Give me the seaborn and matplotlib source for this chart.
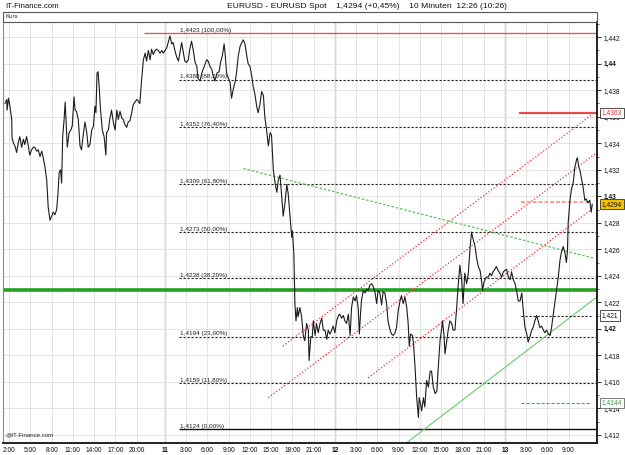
import matplotlib
matplotlib.use("Agg")
import matplotlib.pyplot as plt
from matplotlib.patches import Rectangle
import seaborn as sns
import pandas as pd

sns.set_style("white")
plt.rcParams['font.family'] = ['Liberation Sans', 'DejaVu Sans']

# ---------------- data (hours since day 10, 00:00) ----------------
hours_a = [1.4, 1.65, 1.7, 1.9, 2.1, 2.35, 2.4, 2.6, 2.8, 3.05,
           3.3, 3.5, 3.75, 4.0, 4.2, 4.45, 4.7, 4.9, 5.15, 5.4,
           5.6, 5.9, 6.1, 6.35, 6.6, 6.8, 7.05, 7.3, 7.5, 7.75,
           8.0, 8.2, 8.45, 8.7, 8.9, 9.05, 9.25, 9.4, 9.55, 9.75,
           9.9, 10.0, 10.2, 10.45, 10.7, 10.9, 11.15, 11.3, 11.5, 11.75,
           12.0, 12.2, 12.45, 12.7, 12.95, 13.15, 13.4, 13.65, 13.9, 14.1,
           14.25, 14.4, 14.55, 14.7, 14.9, 15.15, 15.4, 15.65, 15.75, 16.0,
           16.2, 16.45, 16.7, 16.95, 17.2, 17.4, 17.65, 17.9, 18.1, 18.35,
           18.6, 18.8, 19.05, 19.3, 19.5, 19.75, 20.0, 20.2]
prices_a = [1.4370, 1.4373, 1.4365, 1.4374, 1.4368, 1.4358, 1.4344, 1.4340, 1.4338, 1.4333,
            1.4341, 1.4345, 1.4337, 1.4343, 1.4339, 1.4345, 1.4338, 1.4331, 1.4335, 1.4337,
            1.4337, 1.4334, 1.4335, 1.4330, 1.4334, 1.4329, 1.4322, 1.4312, 1.4292, 1.4282,
            1.4285, 1.4288, 1.4286, 1.4290, 1.4303, 1.4318, 1.4320, 1.4310, 1.4345, 1.4358,
            1.4371, 1.4360, 1.4337, 1.4348, 1.4350, 1.4353, 1.4375, 1.4365, 1.4364, 1.4358,
            1.4338, 1.4335, 1.4346, 1.4356, 1.4348, 1.4337, 1.4339, 1.4350, 1.4353, 1.4368,
            1.4363, 1.4393, 1.4394, 1.4383, 1.4365, 1.4350, 1.4345, 1.4331, 1.4348, 1.4350,
            1.4358, 1.4365, 1.4356, 1.4350, 1.4365, 1.4358, 1.4364, 1.4359, 1.4358, 1.4354,
            1.4352, 1.4356, 1.4357, 1.4363, 1.4369, 1.4371, 1.4373, 1.4372]

hours_b = [20.45, 20.7, 20.95, 21.2, 21.4, 21.65, 21.9, 22.1, 22.35, 22.6,
           22.8, 23.05, 23.3, 23.55, 23.75, 24.0, 24.25, 24.45, 24.7, 24.95,
           25.15, 25.4, 25.65, 25.9, 26.1, 26.35, 26.6, 26.8, 27.05, 27.3,
           27.5, 27.75, 28.0, 28.25, 28.5, 28.65, 28.95, 29.2, 29.4, 29.9,
           30.1, 30.35, 30.6, 30.8, 31.05, 31.35, 31.65, 31.85, 32.1, 32.35,
           32.5, 32.7, 32.95, 33.2, 33.4, 33.65, 33.9, 34.1, 34.35, 34.6,
           34.85, 35.05, 35.3, 35.55, 35.75, 36.0, 36.25, 36.45, 36.7, 36.95,
           37.15, 37.4, 37.65, 37.9, 38.1, 38.35, 38.6, 38.85, 39.05, 39.3,
           39.55, 39.8, 40.0, 40.25]
prices_b = [1.4370, 1.4388, 1.4403, 1.4408, 1.4402, 1.4410, 1.4403, 1.4411, 1.4407, 1.4410,
            1.4411, 1.4410, 1.4408, 1.4410, 1.4408, 1.4410, 1.4412, 1.4416, 1.4421, 1.4415,
            1.4416, 1.4410, 1.4405, 1.4402, 1.4408, 1.4416, 1.4408, 1.4402, 1.4401, 1.4403,
            1.4411, 1.4417, 1.4410, 1.4401, 1.4398, 1.4389, 1.4387, 1.4393, 1.4396, 1.4403,
            1.4402, 1.4398, 1.4396, 1.4391, 1.4387, 1.4393, 1.4394, 1.4401, 1.4406, 1.4415,
            1.4407, 1.4393, 1.4389, 1.4386, 1.4374, 1.4381, 1.4386, 1.4393, 1.4406, 1.4413,
            1.4416, 1.4418, 1.4415, 1.4406, 1.4400, 1.4398, 1.4391, 1.4383, 1.4377, 1.4368,
            1.4363, 1.4369, 1.4379, 1.4376, 1.4360, 1.4350, 1.4338, 1.4348, 1.4346, 1.4320,
            1.4310, 1.4303, 1.4312, 1.4316]

hours_c = [40.45, 40.7, 40.95, 41.2, 41.4, 41.65, 41.9, 42.0, 42.2, 42.35,
           42.5, 42.7, 42.8, 43.05, 43.3, 43.55, 43.75, 44.0, 44.25, 44.35,
           44.6, 44.8, 44.95, 45.2, 45.4, 45.65, 45.9, 46.15, 46.35, 46.6,
           46.85, 47.05, 47.3, 47.55, 47.75, 48.0, 48.25, 48.5, 48.7, 48.95,
           49.2, 49.4, 49.65, 49.9, 50.15, 50.35, 50.6, 50.85, 51.05, 51.3,
           51.45, 51.65, 51.75, 52.0, 52.25, 52.5, 52.7, 52.95, 53.2, 53.4,
           53.65, 53.9, 54.1, 54.35, 54.6, 54.8, 55.05, 55.3, 55.5, 55.8,
           56.0, 56.25, 56.5, 56.7, 56.95, 57.2, 57.4, 57.65, 57.9, 58.15,
           58.35, 58.5, 58.7, 58.95, 59.1, 59.3, 59.55, 59.8, 59.9, 60.1,
           60.25, 60.5, 60.7, 60.95, 61.2, 61.45]
prices_c = [1.4302, 1.4285, 1.4295, 1.4309, 1.4302, 1.4285, 1.4269, 1.4274, 1.4257, 1.4219,
            1.4206, 1.4216, 1.4209, 1.4216, 1.4209, 1.4194, 1.4191, 1.4204, 1.4199, 1.4176,
            1.4194, 1.4194, 1.4206, 1.4195, 1.4204, 1.4197, 1.4204, 1.4208, 1.4199, 1.4199,
            1.4192, 1.4199, 1.4196, 1.4199, 1.4202, 1.4197, 1.4206, 1.4210, 1.4211, 1.4208,
            1.4210, 1.4206, 1.4204, 1.4211, 1.4195, 1.4216, 1.4224, 1.4221, 1.4225, 1.4215,
            1.4196, 1.4214, 1.4221, 1.4229, 1.4227, 1.4230, 1.4229, 1.4233, 1.4234, 1.4232,
            1.4228, 1.4219, 1.4229, 1.4227, 1.4218, 1.4228, 1.4227, 1.4219, 1.4206, 1.4199,
            1.4196, 1.4195, 1.4197, 1.4201, 1.4214, 1.4221, 1.4225, 1.4219, 1.4224, 1.4216,
            1.4204, 1.4187, 1.4196, 1.4195, 1.4189, 1.4173, 1.4148, 1.4133, 1.4148, 1.4143,
            1.4138, 1.4148, 1.4141, 1.4161, 1.4156, 1.4168]

hours_d = [61.65, 61.9, 62.15, 62.4, 62.6, 62.85, 63.1, 63.2, 63.4, 63.55,
           63.8, 64.0, 64.25, 64.5, 64.7, 64.95, 65.2, 65.4, 65.65, 65.9,
           66.1, 66.35, 66.6, 66.85, 67.1, 67.3, 67.55, 67.8, 68.0, 68.25,
           68.5, 68.7, 68.85, 69.05, 69.2, 69.4, 69.65, 69.9, 70.1, 70.35,
           70.6, 70.8, 71.05, 71.3, 71.55, 71.8, 72.0, 72.25, 72.5, 72.75,
           72.95, 73.2, 73.45, 73.65, 73.9, 74.15, 74.4, 74.6, 74.85, 75.1,
           75.3, 75.55, 75.8, 76.0, 76.25, 76.5, 76.7, 76.95, 77.2, 77.45,
           77.65, 77.9, 78.15, 78.4, 78.6, 78.85, 79.1, 79.3, 79.55, 79.8,
           80.0, 80.25, 80.5, 80.7, 80.85, 80.95, 81.2, 81.4, 81.65, 81.9,
           82.15, 82.25, 82.45, 82.6, 82.8, 83.05, 83.3, 83.5, 83.75, 84.0,
           84.2, 84.35]
prices_d = [1.4168, 1.4156, 1.4151, 1.4153, 1.4171, 1.4191, 1.4201, 1.4206, 1.4196, 1.4181,
            1.4191, 1.4199, 1.4206, 1.4204, 1.4199, 1.4199, 1.4216, 1.4232, 1.4248, 1.4237,
            1.4219, 1.4242, 1.4234, 1.4242, 1.4262, 1.4273, 1.4267, 1.4262, 1.4254, 1.4247,
            1.4244, 1.4237, 1.4229, 1.4235, 1.4237, 1.4239, 1.4239, 1.4242, 1.4240, 1.4243,
            1.4245, 1.4247, 1.4244, 1.4242, 1.4239, 1.4243, 1.4244, 1.4245, 1.4239, 1.4237,
            1.4243, 1.4237, 1.4234, 1.4229, 1.4221, 1.4221, 1.4227, 1.4214, 1.4201, 1.4196,
            1.4190, 1.4194, 1.4199, 1.4201, 1.4206, 1.4210, 1.4206, 1.4201, 1.4202, 1.4199,
            1.4197, 1.4199, 1.4196, 1.4195, 1.4201, 1.4211, 1.4221, 1.4229, 1.4239, 1.4252,
            1.4258, 1.4262, 1.4257, 1.4250, 1.4259, 1.4280, 1.4297, 1.4305, 1.4310, 1.4322,
            1.4328, 1.4329, 1.4322, 1.4320, 1.4314, 1.4307, 1.4297, 1.4298, 1.4295, 1.4297,
            1.4288, 1.4294]

fib_levels = [1.4423, 1.4388, 1.4352, 1.4309, 1.4273, 1.4238, 1.4194, 1.4159, 1.4124]
fib_pcts = ["100,00%", "88,20%", "76,40%", "61,80%", "50,00%", "38,20%", "23,60%", "11,80%", "0,00%"]
fib_start = 26.0
fib_top_start = 21.0

support_level = 1.4229
resist_level = 1.4363
resist_start = 74.0
short_start, short_end = 74.3, 84.2
short_black = 1.4210
short_green = 1.4144
short_red = 1.4296
last_price = 1.4294

channel_upper = ([40.65, 84.17], [1.4187, 1.4361])
channel_mid = ([38.6, 85.0], [1.4148, 1.4333])
channel_low = ([52.7, 84.25], [1.4163, 1.4290])
green_down = ([35.05, 84.75], [1.4321, 1.4253])
green_up = ([57.9, 85.0], [1.4113, 1.4224])

x_ticks = [2, 5, 8, 11, 14, 17, 20, 24, 27, 30, 33, 36, 39, 42, 45, 48,
           51, 54, 57, 60, 63, 66, 69, 72, 75, 78, 81]
x_labels = ["2:00", "5:00", "8:00", "11:00", "14:00", "17:00", "20:00", "11",
            "3:00", "6:00", "9:00", "12:00", "15:00", "18:00", "21:00", "12",
            "3:00", "6:00", "9:00", "12:00", "15:00", "18:00", "21:00", "13",
            "3:00", "6:00", "9:00"]
day_marks = [24, 48, 72]
y_ticks = [1.412, 1.414, 1.416, 1.418, 1.420, 1.422, 1.424, 1.426, 1.428,
           1.430, 1.432, 1.434, 1.436, 1.438, 1.440, 1.442]

def fmt(v, nd):
    return f"{v:.{nd}f}".replace('.', ',')

hours = hours_a + hours_b + hours_c + hours_d
prices = prices_a + prices_b + prices_c + prices_d
df = pd.DataFrame({"hour": hours, "price": prices})

# ---------------- figure ----------------
W, H = 625, 455
fig = plt.figure(figsize=(6.25, 4.55), dpi=100)
fig.patch.set_facecolor('white')
ax = fig.add_axes([3 / W, 12 / H, 594 / W, 421 / H])
ax.set_xlim(1.12, 85.02)
ax.set_ylim(1.41138, 1.44315)

# grid
ax.set_xticks(x_ticks)
ax.set_xticklabels(x_labels)
ax.set_yticks(y_ticks)
ax.set_yticks([v / 1000 for v in range(1412, 1444)], minor=True)
ax.grid(True, which='major', color='#e0e0e0', lw=0.6, zorder=0)
ax.set_axisbelow(True)
for d in day_marks:
    ax.axvline(d, color='#b0b0b0', lw=1.0, zorder=0.5)

# support line
ax.axhline(support_level, color='#22a322', lw=2.6, zorder=2)

# fib levels
for i, (lv, pc) in enumerate(zip(fib_levels, fib_pcts)):
    if i == 0:
        ax.hlines(lv, fib_top_start, 85.02, color='#d06060', lw=1.0, zorder=2)
    elif i == len(fib_levels) - 1:
        ax.hlines(lv, fib_start, 85.02, color='#111111', lw=1.0, zorder=2)
    else:
        ax.hlines(lv, fib_start, 84.9, color='#222222', lw=0.8,
                  linestyles=(0, (2, 1.6)), zorder=2)
    ax.text(fib_start + 0.1, lv + 0.00003, f"{fmt(lv, 4)} ({pc})",
            fontsize=4.6, va='bottom', ha='left', color='#222222', zorder=4)

# channels / trend lines
for xs, ys in (channel_upper, channel_mid, channel_low):
    ax.plot(xs, ys, color='#ff2a2a', lw=0.9, ls=(0, (1, 1.6)), zorder=2)
ax.plot(*green_down, color='#55c455', lw=0.9, ls=(0, (2, 1.5)), zorder=2)
ax.plot(*green_up, color='#66cc66', lw=0.8, zorder=2)

# right side short levels
ax.hlines(resist_level, resist_start, 85.02, color='#e84a4a', lw=1.6, zorder=2)
ax.hlines(short_black, short_start, short_end, color='#222222', lw=0.8,
          linestyles=(0, (2, 1.6)), zorder=2)
ax.hlines(short_green, short_start, short_end, color='#44b044', lw=0.8,
          linestyles=(0, (3, 1.5)), zorder=2)
ax.hlines(short_red, short_start, short_end, color='#ff9a9a', lw=1.4,
          linestyles=(0, (2, 1)), zorder=2)

# price line
sns.lineplot(data=df, x="hour", y="price", ax=ax, color='#1c1c1c', lw=0.8,
             estimator=None, sort=False, zorder=3)
ax.set_xlabel("")
ax.set_ylabel("")

# axes styling
ax.yaxis.tick_right()
ax.set_yticklabels([fmt(v, 3).rstrip('0') for v in y_ticks])
for lab, v in zip(ax.get_yticklabels(), y_ticks):
    if round(v * 1000) % 10 == 0:
        lab.set_fontweight('bold')
for lab, t in zip(ax.get_xticklabels(), x_labels):
    if ':' not in t:
        lab.set_fontweight('bold')
ax.tick_params(axis='y', which='major', length=3, width=0.6, pad=1.5,
               labelsize=4.8, direction='out', colors='#111111', right=True, left=False)
ax.tick_params(axis='y', which='minor', length=1.5, width=0.5, right=True, left=False)
ax.tick_params(axis='x', length=0, pad=2.6, labelsize=4.8, colors='#111111')
for s in ('right', 'bottom'):
    ax.spines[s].set_color('#111111')
    ax.spines[s].set_linewidth(1.3)
ax.spines['left'].set_color('#8a8a8a')
ax.spines['left'].set_linewidth(0.8)
ax.spines['top'].set_visible(False)

# boxed value labels on the right axis
yt = ax.get_yaxis_transform()
box_kw = dict(fontsize=4.8, va='center', ha='left', transform=yt, clip_on=False, zorder=6)
ax.text(1.008, resist_level, fmt(resist_level, 4), color='#e03030',
        bbox=dict(boxstyle='square,pad=0.25', fc='white', ec='#333333', lw=0.6), **box_kw)
ax.text(1.008, last_price, fmt(last_price, 4), color='#111111',
        bbox=dict(boxstyle='square,pad=0.25', fc='#f2c200', ec='#333333', lw=0.6), **box_kw)
ax.text(1.008, short_black, fmt(short_black, 3), color='#111111',
        bbox=dict(boxstyle='square,pad=0.25', fc='white', ec='#333333', lw=0.6), **box_kw)
ax.text(1.008, short_green, fmt(short_green, 4), color='#33a033',
        bbox=dict(boxstyle='square,pad=0.25', fc='white', ec='#666666', lw=0.6), **box_kw)

# header strip and texts
fig.add_artist(Rectangle((3 / W, 1 - 22 / H), 594 / W, 10 / H, transform=fig.transFigure,
                         fill=False, ec='#555555', lw=0.8))
fig.text(5 / W, 1 - 17 / H, "Kurs", fontsize=4.4, va='center', ha='left', color='#222222')
fig.text(5 / W, 1 - 6 / H, "IT-Finance.com", fontsize=5.6, va='center', ha='left', color='#111111')
fig.text(227 / W, 1 - 6 / H,
         "EURUSD - EURUSD Spot    " + fmt(last_price, 4) + " (+0,45%)    10 Minuten  12:26 (10:26)",
         fontsize=6.1, va='center', ha='left', color='#111111')
ax.text(0.004, 0.013, "@IT-Finance.com", transform=ax.transAxes, fontsize=4.4,
        va='bottom', ha='left', color='#222222', zorder=6)

fig.savefig("out.png", dpi=100, facecolor='white')
